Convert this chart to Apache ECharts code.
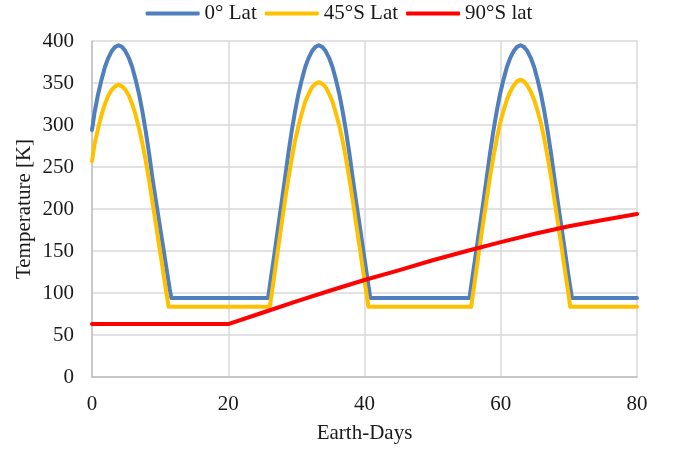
<!DOCTYPE html>
<html>
<head>
<meta charset="utf-8">
<script src="https://cdn.jsdelivr.net/npm/echarts@6/dist/echarts.min.js"></script>
<style>html,body{margin:0;padding:0;background:#fff;}#c{width:678px;height:449px;}</style>
</head>
<body>
<div id="c"></div>
<script>
const seriesNames = ['0° Lat', '45°S Lat', '90°S lat'];

const blueDays = [0,0.4,0.9,1.4,1.9,2.4,2.9,3.4,3.9,4.4,4.9,5.4,5.9,6.4,6.9,7.4,7.9,8.4,8.9,9.4,9.9,10.4,10.9,11.4,11.65,
  25.85,26.3,26.8,27.3,27.8,28.3,28.8,29.3,29.8,30.3,30.8,31.3,31.8,32.3,32.8,33.3,33.8,34.3,34.8,35.3,35.8,36.3,36.8,37.3,37.8,38.3,38.8,39.3,39.8,40.3,40.85,
  55.4,55.9,56.4,56.9,57.4,57.9,58.4,58.9,59.4,59.9,60.4,60.9,61.4,61.9,62.4,62.9,63.4,63.9,64.4,64.9,65.4,65.9,66.4,66.9,67.4,67.9,68.4,68.9,69.4,69.9,70.45,80];
const blueTemp = [294,316,337,354,369,380,388,393,395,393,388,380,369,354,337,316,292,265,235,209,183,157,131,105,94,
  94,120,148,177,206,235,265,292,316,337,354,369,380,388,393,395,393,388,380,369,354,337,316,292,265,235,207,180,152,124,94,
  94,122,150,178,206,235,265,292,316,337,354,369,380,388,393,395,393,388,380,369,354,337,316,292,265,235,207,179,151,123,94,94];

const yellowDays = [0,0.4,0.9,1.4,1.9,2.4,2.9,3.4,3.9,4.4,4.9,5.4,5.9,6.4,6.9,7.4,7.9,8.4,8.9,9.4,9.9,10.4,10.9,11.25,
  26.1,26.8,27.3,27.8,28.3,28.8,29.3,29.8,30.3,30.8,31.3,31.8,32.3,32.8,33.3,33.8,34.3,34.8,35.3,35.8,36.3,36.8,37.3,37.8,38.3,38.8,39.3,39.8,40.3,40.58,
  55.65,56.4,56.9,57.4,57.9,58.4,58.9,59.4,59.9,60.4,60.9,61.4,61.9,62.4,62.9,63.4,63.9,64.4,64.9,65.4,65.9,66.4,66.9,67.4,67.9,68.4,68.9,69.4,69.9,70.2,80];
const yellowTemp = [257,278,296,312,325,335,342,346,348,346,342,335,325,312,296,278,257,233,207,181,154,128,101,83.5,
  83.5,123,152,180,209,235,259,281,299,314,328,337,345,349,351,349,345,337,328,314,299,281,259,235,209,181,154,126,99,83.5,
  83.5,126,155,183,210,237,261,283,302,317,330,340,347,352,354,352,347,340,330,317,302,283,261,237,210,183,156,128,101,83.5,83.5];

const redDays = [0,20,25,30,35,40,45,50,55,60,65,70,75,80];
const redTemp = [63,63,76.5,90,103,115.5,127,139,150,160.5,170.5,179.5,187,194];

const xTicks = {min: 0, max: 80, interval: 20};
const yTicks = {min: 0, max: 400, interval: 50};

const zip = (xs, ys) => xs.map((x, i) => [x, ys[i]]);
const FONT = 'Liberation Serif';
const FS = 21;
const TXT = '#1a1a1a';
const colors = ['#4f7fbd', '#ffc000', '#ff0000'];

const chart = echarts.init(document.getElementById('c'), null, {renderer: 'canvas'});
chart.setOption({
  animation: false,
  backgroundColor: '#fff',
  textStyle: {fontFamily: FONT},
  legend: {
    top: -2, left: 'center',
    itemWidth: 54, itemHeight: 4, itemGap: 8,
    icon: 'roundRect',
    textStyle: {fontFamily: FONT, fontSize: FS, color: TXT},
    data: seriesNames
  },
  grid: {left: 92, right: 41, top: 41, bottom: 70.5, containLabel: false},
  xAxis: {
    type: 'value', min: xTicks.min, max: xTicks.max, interval: xTicks.interval,
    name: 'Earth-Days', nameLocation: 'middle', nameGap: 46,
    nameTextStyle: {fontFamily: FONT, fontSize: FS, color: TXT},
    axisLine: {show: true, lineStyle: {color: '#bfbfbf', width: 1.5}},
    axisTick: {show: false},
    axisLabel: {fontFamily: FONT, fontSize: FS, color: TXT, margin: 17},
    splitLine: {show: true, lineStyle: {color: '#d9d9d9', width: 1.5}}
  },
  yAxis: {
    type: 'value', min: yTicks.min, max: yTicks.max, interval: yTicks.interval,
    name: 'Temperature [K]', nameLocation: 'middle', nameGap: 57, nameRotate: 90,
    nameMoveOverlap: false,
    nameTextStyle: {fontFamily: FONT, fontSize: FS, color: TXT},
    axisLine: {show: true, lineStyle: {color: '#bfbfbf', width: 1.5}},
    axisTick: {show: false},
    axisLabel: {fontFamily: FONT, fontSize: FS, color: TXT, margin: 18},
    splitLine: {show: true, lineStyle: {color: '#d9d9d9', width: 1.5}}
  },
  series: [
    {name: seriesNames[0], type: 'line', data: zip(blueDays, blueTemp), showSymbol: false, symbol: 'none',
     lineStyle: {color: colors[0], width: 4, cap: 'round', join: 'round'}, itemStyle: {color: colors[0]}},
    {name: seriesNames[1], type: 'line', data: zip(yellowDays, yellowTemp), showSymbol: false, symbol: 'none',
     lineStyle: {color: colors[1], width: 4, cap: 'round', join: 'round'}, itemStyle: {color: colors[1]}},
    {name: seriesNames[2], type: 'line', data: zip(redDays, redTemp), showSymbol: false, symbol: 'none',
     lineStyle: {color: colors[2], width: 4, cap: 'round', join: 'round'}, itemStyle: {color: colors[2]}}
  ]
});
</script>
</body>
</html>
